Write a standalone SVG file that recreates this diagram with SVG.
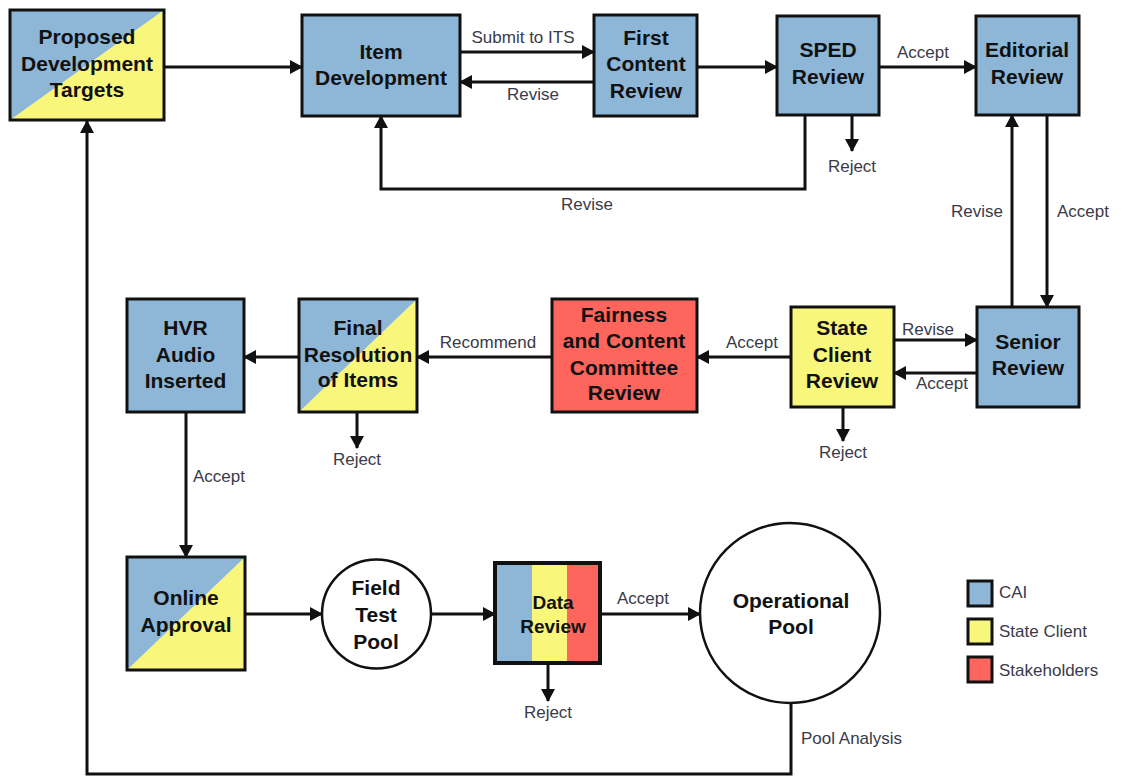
<svg xmlns="http://www.w3.org/2000/svg" width="1121" height="776" viewBox="0 0 1121 776">
<style>
.box{stroke:#111;stroke-width:3}
.blue{fill:#8db6d7}
.yellow{fill:#f8f67b}
.red{fill:#fe665d}
.nt{font-family:"Liberation Sans",Arial,sans-serif;font-weight:bold;font-size:21px;fill:#111;text-anchor:middle}
.lb{font-family:"Liberation Sans",Arial,sans-serif;font-size:17px;fill:#3a3a48}
.mid{text-anchor:middle}
.cn{fill:none;stroke:#111;stroke-width:3}
.arr{marker-end:url(#ah)}
</style>
<defs>
<marker id="ah" markerUnits="userSpaceOnUse" markerWidth="13" markerHeight="14" refX="12" refY="7" orient="auto">
<path d="M0,0 L13,7 L0,14 z" fill="#111"/>
</marker>
</defs>
<rect width="1121" height="776" fill="#fff"/>

<g id="connectors">
<path class="cn arr" d="M165,67 H302"/>
<path class="cn arr" d="M460,52 H594"/>
<path class="cn arr" d="M594,82 H460"/>
<path class="cn arr" d="M697,67 H777"/>
<path class="cn arr" d="M879,67 H976"/>
<path class="cn arr" d="M852,115 V151"/>
<path class="cn arr" d="M805,115 V189 H381 V116"/>
<path class="cn arr" d="M1047,115 V307"/>
<path class="cn arr" d="M1012,307 V115"/>
<path class="cn arr" d="M894,340 H977"/>
<path class="cn arr" d="M977,373 H894"/>
<path class="cn arr" d="M843,407 V441"/>
<path class="cn arr" d="M791,357 H697"/>
<path class="cn arr" d="M552,357 H417"/>
<path class="cn arr" d="M299,357 H244"/>
<path class="cn arr" d="M357,412 V448"/>
<path class="cn arr" d="M186,412 V557"/>
<path class="cn arr" d="M245,614 H322"/>
<path class="cn arr" d="M431,614 H495"/>
<path class="cn arr" d="M548,663 V701"/>
<path class="cn arr" d="M600,614 H700"/>
<path class="cn arr" d="M791,703 V774 H87 V121"/>
<text class="lb mid" x="523" y="43">Submit to ITS</text>
<text class="lb mid" x="533" y="100">Revise</text>
<text class="lb mid" x="587" y="210">Revise</text>
<text class="lb mid" x="923" y="58">Accept</text>
<text class="lb mid" x="852" y="172">Reject</text>
<text class="lb mid" x="977" y="217">Revise</text>
<text class="lb mid" x="1083" y="217">Accept</text>
<text class="lb mid" x="928" y="335">Revise</text>
<text class="lb mid" x="942" y="389">Accept</text>
<text class="lb mid" x="843" y="458">Reject</text>
<text class="lb mid" x="752" y="348">Accept</text>
<text class="lb mid" x="488" y="348">Recommend</text>
<text class="lb mid" x="357" y="465">Reject</text>
<text class="lb" x="193" y="482">Accept</text>
<text class="lb mid" x="548" y="718">Reject</text>
<text class="lb mid" x="643" y="604">Accept</text>
<text class="lb" x="801" y="744">Pool Analysis</text>
</g>

<g id="proposed-development-targets">
<polygon class="yellow" points="10,120 164,10 164,120"/>
<polygon class="blue" points="10,10 164,10 10,120"/>
<rect class="box" x="10" y="10" width="154" height="110" fill="none"/>
<text class="nt" x="87" y="44">Proposed</text>
<text class="nt" x="87" y="71">Development</text>
<text class="nt" x="87" y="97">Targets</text>
</g>

<g id="item-development">
<rect class="box blue" x="302" y="15" width="158" height="101"/>
<text class="nt" x="381" y="59">Item</text>
<text class="nt" x="381" y="85">Development</text>
</g>

<g id="first-content-review">
<rect class="box blue" x="594" y="15" width="103" height="101"/>
<text class="nt" x="646" y="45">First</text>
<text class="nt" x="646" y="71">Content</text>
<text class="nt" x="646" y="98">Review</text>
</g>

<g id="sped-review">
<rect class="box blue" x="777" y="16" width="102" height="99"/>
<text class="nt" x="828" y="57">SPED</text>
<text class="nt" x="828" y="84">Review</text>
</g>

<g id="editorial-review">
<rect class="box blue" x="976" y="16" width="103" height="99"/>
<text class="nt" x="1027" y="57">Editorial</text>
<text class="nt" x="1027" y="84">Review</text>
</g>

<g id="senior-review">
<rect class="box blue" x="977" y="307" width="102" height="100"/>
<text class="nt" x="1028" y="349">Senior</text>
<text class="nt" x="1028" y="375">Review</text>
</g>

<g id="state-client-review">
<rect class="box yellow" x="791" y="307" width="103" height="100"/>
<text class="nt" x="842" y="335">State</text>
<text class="nt" x="842" y="362">Client</text>
<text class="nt" x="842" y="388">Review</text>
</g>

<g id="fairness-committee-review">
<rect class="box red" x="552" y="299" width="145" height="113"/>
<text class="nt" x="624" y="322">Fairness</text>
<text class="nt" x="624" y="348">and Content</text>
<text class="nt" x="624" y="375">Committee</text>
<text class="nt" x="624" y="400">Review</text>
</g>

<g id="final-resolution">
<polygon class="yellow" points="299,412 417,299 417,412"/>
<polygon class="blue" points="299,299 417,299 299,412"/>
<rect class="box" x="299" y="299" width="118" height="113" fill="none"/>
<text class="nt" x="358" y="335">Final</text>
<text class="nt" x="358" y="362">Resolution</text>
<text class="nt" x="358" y="387">of Items</text>
</g>

<g id="hvr-audio-inserted">
<rect class="box blue" x="127" y="299" width="117" height="113"/>
<text class="nt" x="185.5" y="335">HVR</text>
<text class="nt" x="185.5" y="362">Audio</text>
<text class="nt" x="185.5" y="388">Inserted</text>
</g>

<g id="online-approval">
<polygon class="yellow" points="127,670 245,557 245,670"/>
<polygon class="blue" points="127,557 245,557 127,670"/>
<rect class="box" x="127" y="557" width="118" height="113" fill="none"/>
<text class="nt" x="186" y="605">Online</text>
<text class="nt" x="186" y="632">Approval</text>
</g>

<g id="field-test-pool">
<circle cx="376.5" cy="614" r="54.5" fill="#fff" stroke="#111" stroke-width="2.5"/>
<text class="nt" x="376" y="595">Field</text>
<text class="nt" x="376" y="622">Test</text>
<text class="nt" x="376" y="649">Pool</text>
</g>

<g id="data-review">
<rect class="blue" x="495" y="563" width="37" height="100"/>
<rect class="yellow" x="532" y="563" width="35" height="100"/>
<rect class="red" x="567" y="563" width="33" height="100"/>
<rect x="495" y="563" width="105" height="100" fill="none" stroke="#111" stroke-width="4"/>
<text class="nt" x="553" y="609" style="font-size:19px">Data</text>
<text class="nt" x="553" y="633" style="font-size:19px">Review</text>
</g>

<g id="operational-pool">
<circle cx="790" cy="613" r="90" fill="#fff" stroke="#111" stroke-width="2.5"/>
<text class="nt" x="791" y="608">Operational</text>
<text class="nt" x="791" y="634">Pool</text>
</g>

<g id="legend">
<rect class="box blue" x="968" y="581" width="24" height="25"/>
<rect class="box yellow" x="968" y="619" width="24" height="25"/>
<rect class="box red" x="968" y="657" width="24" height="25"/>
<text class="lb" x="999" y="598">CAI</text>
<text class="lb" x="999" y="637">State Client</text>
<text class="lb" x="999" y="676">Stakeholders</text>
</g>
</svg>
